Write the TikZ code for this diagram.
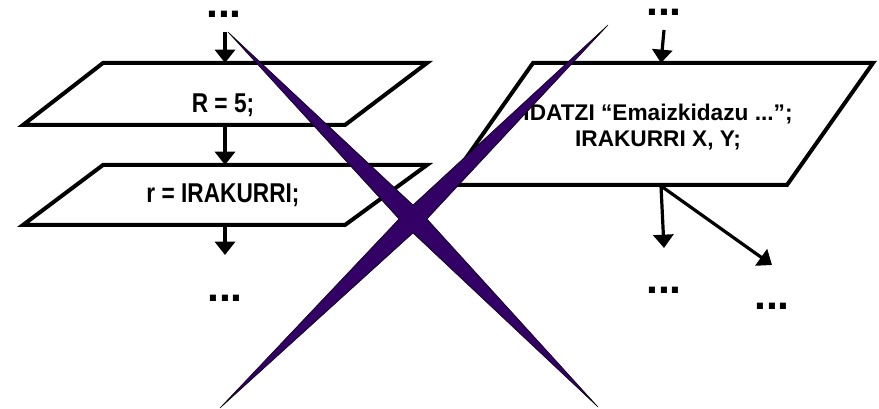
\documentclass[tikz,border=0pt]{standalone}
\usepackage{fontspec}
\setmainfont{Liberation Sans}
\usetikzlibrary{arrows.meta}
\definecolor{crossviolet}{RGB}{51,0,102}

\tikzset{
  flowarrow/.style={-{Triangle[width=15pt,length=10pt]}, line width=2.4pt},
  iobox/.style={line width=3pt, line join=miter},
  stmt/.style={anchor=base, inner sep=0pt, font=\fontsize{17}{20}\selectfont\bfseries},
  moredots/.style={anchor=base, inner sep=0pt, text height=6pt, text depth=0pt,
    font=\fontsize{32}{32}\selectfont\bfseries},
}

\begin{document}
\begin{tikzpicture}[x=0.75pt,y=0.75pt,yscale=-1,xscale=1]
\useasboundingbox (0,0) rectangle (879,409);

%Shape: Parallelogram
\draw [iobox] (103,63) -- (427,63) -- (345,125) -- (23,125) -- cycle ;
%Shape: Parallelogram
\draw [iobox] (103,165) -- (427,165) -- (345,225) -- (23,225) -- cycle ;
%Shape: Parallelogram
\draw [iobox] (533,63) -- (873,63) -- (787,185) -- (447,185) -- cycle ;

%Connector points
\coordinate (in1) at (225,32);
\coordinate (p1top) at (225,63);
\coordinate (p1bot) at (225,125);
\coordinate (p2top) at (225,165);
\coordinate (p2bot) at (225,225);
\coordinate (out1) at (225,255);
\coordinate (in3) at (664,30);
\coordinate (p3top) at (661,63);
\coordinate (p3bot) at (661,186);
\coordinate (outa) at (664,248);
\coordinate (outb) at (772,265);

%Straight Lines
\draw [flowarrow] (in1) -- (p1top) ;
\draw [flowarrow] (p1bot) -- (p2top) ;
\draw [flowarrow] (p2bot) -- (out1) ;
\draw [flowarrow] (in3) -- (p3top) ;
\draw [flowarrow] (p3bot) -- (outa) ;
\draw [flowarrow] (p3bot) -- (outb) ;

% Text Node
\node [stmt] (rfive) at (223,113) {\scalebox{1}[1.2]{R = 5;}};
% Text Node
\node [stmt] (rread) at (223,203) {\scalebox{1}[1.2]{r = IRAKURRI;}};
% Text Node
\node [stmt, anchor=center, align=center] (idatzi) at (658,127) {IDATZI “Emaizkidazu ...”;\\IRAKURRI X, Y;};

% Text Node
\node [moredots] (dotsa) at (224,18) {...};
% Text Node
\node [moredots] (dotsb) at (225,302) {...};
% Text Node
\node [moredots] (dotsc) at (664,16) {...};
% Text Node
\node [moredots] (dotsd) at (664,294) {...};
% Text Node
\node [moredots] (dotse) at (772,310) {...};

%Shape: Star (crossing out)
\draw [fill=crossviolet, line width=0.4pt] (228,32) -- (413,205) -- (608,25) -- (427,219) -- (598,407) -- (413,233) -- (220,408) -- (399,219) -- cycle ;

\end{tikzpicture}
\end{document}
